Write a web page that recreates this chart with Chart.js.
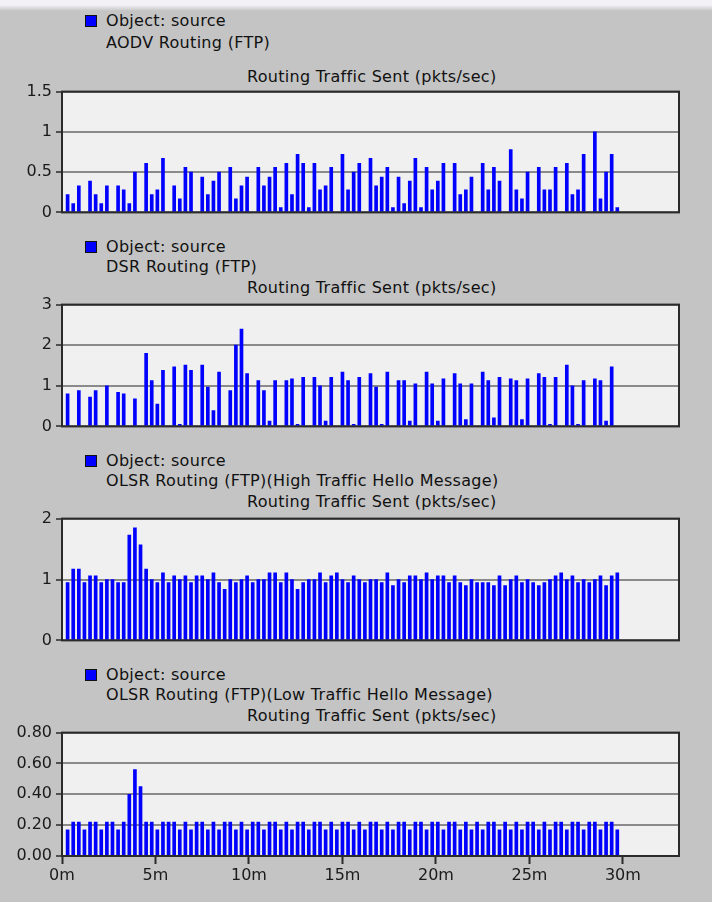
<!DOCTYPE html>
<html>
<head>
<meta charset="utf-8">
<title>Routing Traffic Sent</title>
<script src="https://cdn.jsdelivr.net/npm/chart.js@4.4.1/dist/chart.umd.min.js"></script>
<style>
  html, body { margin: 0; padding: 0; }
  body {
    width: 712px; height: 902px; position: relative; overflow: hidden;
    background: linear-gradient(to bottom, #f3f1f5 0px, #f3f1f5 5px, #c4c4c4 11px, #c4c4c4 100%);
    font-family: "DejaVu Sans", sans-serif;
  }
  .txt {
    position: absolute; white-space: nowrap; color: #111;
    font-size: 16px; line-height: 16px; letter-spacing: 0.3px;
  }
  .swatch {
    position: absolute; width: 10px; height: 10px;
    background: #0000ff; border: 1px solid #111;
  }
  .panel { position: absolute; left: 0; width: 712px; }
</style>
</head>
<body>
<script>
// Statistic: Routing Traffic Sent (pkts/sec), object "source", one sample every 18 s
const STAT_TITLE = 'Routing Traffic Sent (pkts/sec)';
const OBJECT_LABEL = 'Object: source';
const PANEL_NAMES = [
  'AODV Routing (FTP)',
  'DSR Routing (FTP)',
  'OLSR Routing (FTP)(High Traffic Hello Message)',
  'OLSR Routing (FTP)(Low Traffic Hello Message)'
];

// sample times in minutes (collection interval 0.3 min, 99 samples)
const SAMPLE_MINUTES = Array.from({ length: 99 }, (_, i) => +(0.3 * (i + 1)).toFixed(1));

const aodv = [
  0.22,0.11,0.33,0,0.39,0.22,0.11,0.33,0,0.33,
  0.28,0.11,0.50,0,0.61,0.22,0.28,0.67,0,0.33,
  0.17,0.56,0.50,0,0.44,0.22,0.39,0.50,0,0.56,
  0.17,0.33,0.44,0,0.56,0.33,0.44,0.56,0.06,0.61,
  0.22,0.72,0.61,0.06,0.61,0.28,0.33,0.56,0,0.72,
  0.28,0.50,0.61,0,0.67,0.33,0.44,0.56,0.06,0.44,
  0.11,0.39,0.67,0.06,0.56,0.28,0.39,0.61,0,0.61,
  0.22,0.28,0.44,0,0.61,0.28,0.56,0.39,0,0.78,
  0.28,0.17,0.50,0,0.56,0.28,0.28,0.56,0,0.61,
  0.22,0.28,0.72,0,1.00,0.17,0.50,0.72,0.06
];

const dsr = [
  0.80,0,0.88,0,0.72,0.88,0,1.00,0,0.84,
  0.80,0,0.68,0,1.80,1.13,0.55,1.38,0,1.47,
  0.05,1.51,1.38,0,1.51,0.97,0.39,1.34,0,0.88,
  2.00,2.40,1.30,0,1.13,0.88,0.13,1.13,0,1.13,
  1.17,0.05,1.21,0,1.21,1.00,0.13,1.21,0,1.34,
  1.13,0.05,1.21,0,1.30,0.97,0.05,1.34,0,1.13,
  1.13,0.13,1.05,0,1.34,1.05,0.13,1.17,0,1.30,
  1.05,0.17,1.05,0,1.34,1.13,0.21,1.21,0,1.17,
  1.13,0.17,1.17,0,1.30,1.21,0.05,1.21,0,1.51,
  1.00,0.05,1.13,0,1.17,1.13,0.13,1.47,0
];

const olsrHigh = [
  0.95,1.17,1.17,0.95,1.06,1.06,0.95,1.00,1.00,0.95,
  0.95,1.73,1.85,1.57,1.17,1.00,0.95,1.11,0.95,1.06,
  1.00,1.06,0.95,1.06,1.06,1.00,1.11,0.95,0.84,1.00,
  0.95,1.00,1.06,0.95,1.00,1.00,1.11,1.11,0.95,1.11,
  1.00,0.84,0.95,1.00,1.00,1.11,0.95,1.06,1.11,1.00,
  0.95,1.06,1.00,0.95,1.00,1.00,0.95,1.11,0.90,1.00,
  0.95,1.06,1.06,1.00,1.11,1.00,1.06,1.06,0.95,1.06,
  0.95,0.90,1.00,0.95,0.95,0.95,0.90,1.06,0.90,1.00,
  1.06,0.95,1.00,0.95,0.90,0.95,1.00,1.06,1.11,1.00,
  1.06,0.95,1.00,0.95,1.00,1.06,0.90,1.06,1.11
];

const olsrLow = [
  0.17,0.22,0.22,0.17,0.22,0.22,0.17,0.22,0.22,0.17,
  0.22,0.40,0.56,0.45,0.22,0.22,0.17,0.22,0.22,0.22,
  0.17,0.22,0.17,0.22,0.22,0.17,0.22,0.17,0.22,0.22,
  0.17,0.22,0.17,0.22,0.22,0.17,0.22,0.22,0.17,0.22,
  0.17,0.22,0.22,0.17,0.22,0.22,0.17,0.22,0.17,0.22,
  0.22,0.17,0.22,0.17,0.22,0.22,0.17,0.22,0.17,0.22,
  0.22,0.17,0.22,0.22,0.17,0.22,0.22,0.17,0.22,0.22,
  0.17,0.22,0.17,0.22,0.17,0.22,0.22,0.17,0.22,0.17,
  0.22,0.17,0.22,0.22,0.17,0.22,0.17,0.22,0.22,0.17,
  0.22,0.22,0.17,0.22,0.22,0.17,0.22,0.22,0.17
];

// y-axis ranges per panel: [max, step]
const Y_RANGES = [[1.5, 0.5], [3, 1], [2, 1], [0.8, 0.2]];
const X_MAX_MIN = 33;       // time axis extent (minutes)
const X_TICK_STEP = 5;      // minutes between time ticks

// ---- layout ----
const PLOT_TOP = [90, 303, 517, 731];
const PLOT_H = [124, 125, 125, 125];
const HEAD_TOPS = [         // tops of: object line, name line, statistic title
  [13, 35, 69],
  [303 - 64, 303 - 44, 303 - 23],
  [517 - 64, 517 - 44, 517 - 23],
  [731 - 64, 731 - 44, 731 - 23]
];
const PAD_TOP = 12;
const AXIS_W = 62;
const RIGHT_PAD = 33;
const X_AXIS_H = 40;        // time axis band under the last panel
const X_STUB_H = 12;        // empty band under the other panels

const FONT = { family: '"DejaVu Sans", sans-serif', size: 16 };

const plotFrame = {
  id: 'plotFrame',
  beforeDraw(chart) {
    const { ctx, chartArea: a } = chart;
    ctx.save();
    ctx.fillStyle = '#f0f0f0';
    ctx.fillRect(a.left, a.top, a.right - a.left, a.bottom - a.top);
    ctx.restore();
  },
  afterDatasetsDraw(chart) {
    const { ctx, chartArea: a } = chart;
    ctx.save();
    ctx.strokeStyle = '#2a2a2a';
    ctx.lineWidth = 2;
    ctx.strokeRect(a.left, a.top, a.right - a.left, a.bottom - a.top);
    ctx.restore();
  }
};

function addText(cls, text, left, top) {
  const d = document.createElement('div');
  d.className = cls;
  d.textContent = text;
  d.style.left = left + 'px';
  d.style.top = top + 'px';
  document.body.appendChild(d);
  return d;
}

function makePanel(i, values, tickFmt, showX) {
  const [t1, t2, t3] = HEAD_TOPS[i];
  const sw = document.createElement('div');
  sw.className = 'swatch';
  sw.style.left = '85px';
  sw.style.top = (t1 + 2) + 'px';
  document.body.appendChild(sw);
  addText('txt', OBJECT_LABEL, 106, t1);
  addText('txt', PANEL_NAMES[i], 106, t2);
  addText('txt', STAT_TITLE, 247, t3);

  const axisH = showX ? X_AXIS_H : X_STUB_H;
  const wrap = document.createElement('div');
  wrap.className = 'panel';
  wrap.style.top = (PLOT_TOP[i] - PAD_TOP) + 'px';
  wrap.style.height = (PAD_TOP + PLOT_H[i] + axisH) + 'px';
  const cv = document.createElement('canvas');
  wrap.appendChild(cv);
  document.body.appendChild(wrap);

  const [yMax, yStep] = Y_RANGES[i];
  new Chart(cv, {
    type: 'bar',
    data: {
      datasets: [{
        data: SAMPLE_MINUTES.map((t, k) => ({ x: t, y: values[k] })),
        backgroundColor: '#0000ff',
        borderWidth: 0,
        barThickness: 3
      }]
    },
    plugins: [plotFrame],
    options: {
      responsive: true,
      maintainAspectRatio: false,
      devicePixelRatio: 1,
      animation: false,
      layout: { padding: { top: PAD_TOP, right: RIGHT_PAD, bottom: 0, left: 0 } },
      plugins: { legend: { display: false }, tooltip: { enabled: false }, title: { display: false } },
      scales: {
        x: {
          type: 'linear',
          min: 0,
          max: X_MAX_MIN,
          offset: false,
          afterFit(s) { s.height = axisH; },
          afterBuildTicks(s) { s.ticks = s.ticks.filter(t => t.value % X_TICK_STEP === 0); },
          grid: {
            offset: false,
            drawOnChartArea: false,
            drawTicks: showX,
            tickLength: 8,
            tickColor: '#2a2a2a',
            tickWidth: 2
          },
          border: { display: false },
          ticks: {
            display: showX,
            stepSize: X_TICK_STEP,
            includeBounds: false,
            autoSkip: false,
            maxRotation: 0,
            padding: 2,
            color: '#1a1a1a',
            font: FONT,
            callback: v => v + 'm'
          }
        },
        y: {
          min: 0,
          max: yMax,
          afterFit(s) { s.width = AXIS_W; },
          grid: { color: '#8a8a8a', lineWidth: 2, tickLength: 6, tickColor: '#2a2a2a', tickWidth: 1.5 },
          border: { display: false },
          ticks: {
            stepSize: yStep,
            padding: 4,
            color: '#1a1a1a',
            font: FONT,
            callback: tickFmt
          }
        }
      }
    }
  });
}

const plain = v => String(+v.toFixed(2));
const twoDp = v => v.toFixed(2);

makePanel(0, aodv, plain, false);
makePanel(1, dsr, plain, false);
makePanel(2, olsrHigh, plain, false);
makePanel(3, olsrLow, twoDp, true);
</script>
</body>
</html>
